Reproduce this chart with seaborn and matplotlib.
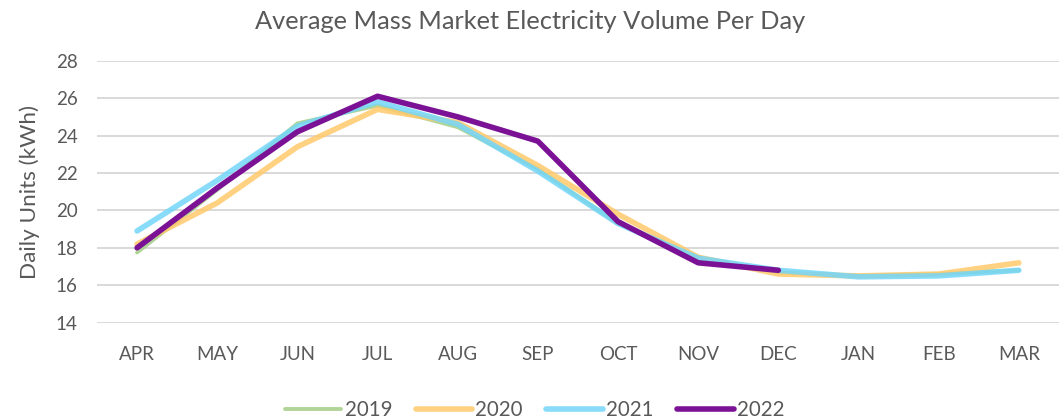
import pandas as pd
import matplotlib.pyplot as plt
import seaborn as sns

months = ["APR", "MAY", "JUN", "JUL", "AUG", "SEP", "OCT", "NOV", "DEC", "JAN", "FEB", "MAR"]
years = ["2019", "2020", "2021", "2022"]

v2019 = [17.75, 21.1, 24.65, 25.6, 24.45, 22.2, 19.3, 17.5, 16.7, 16.5, 16.6, 16.8]
v2020 = [18.2, 20.4, 23.4, 25.4, 24.7, 22.4, 19.8, 17.5, 16.6, 16.5, 16.6, 17.2]
v2021 = [18.9, 21.6, 24.5, 25.8, 24.6, 22.1, 19.3, 17.45, 16.8, 16.45, 16.5, 16.8]
v2022 = [18.0, 21.2, 24.2, 26.1, 25.0, 23.7, 19.4, 17.2, 16.8]

colors = {"2019": "#a9d18e", "2020": "#ffc96b", "2021": "#73d6fa", "2022": "#7b1295"}
widths = {"2019": 2.8, "2020": 4.0, "2021": 4.0, "2022": 4.0}
alphas = {"2019": 0.9, "2020": 0.85, "2021": 0.85, "2022": 1.0}

rows = []
for yr, vals in zip(years, [v2019, v2020, v2021, v2022]):
    for i, v in enumerate(vals):
        rows.append({"year": yr, "pos": i, "value": v})
df = pd.DataFrame(rows)

sns.set_style("white")
plt.rcParams["font.family"] = ["Lato", "DejaVu Sans"]
grey = "#595959"

fig = plt.figure(figsize=(10.61, 4.2), dpi=100)
ax = fig.add_axes([0.0914, 0.2317, 0.9066, 0.6238])

for yr in years:
    sns.lineplot(data=df[df["year"] == yr], x="pos", y="value", color=colors[yr],
                 linewidth=widths[yr], alpha=alphas[yr], ax=ax, label=yr,
                 solid_capstyle="round", solid_joinstyle="round")

ax.set_xlim(-0.5, 11.5)
ax.set_ylim(14, 28)
ax.set_yticks(range(14, 29, 2))
ax.set_xticks(range(len(months)))
ax.set_xticklabels(months)
ax.grid(axis="y", color="#d9d9d9", linewidth=1.4)
ax.set_axisbelow(True)
sns.despine(ax=ax, left=True, bottom=True)
ax.tick_params(axis="both", length=0, labelsize=13.5, colors=grey)
ax.tick_params(axis="x", pad=17)
ax.tick_params(axis="y", pad=14)
ax.set_xlabel("")
ax.set_ylabel("Daily Units (kWh)", fontsize=16.2, color=grey, labelpad=11)
fig.suptitle("Average Mass Market Electricity Volume Per Day", x=0.5, y=0.948,
             fontsize=18.3, color=grey, va="center")

ax.legend(loc="upper center", bbox_to_anchor=(0.455, -0.225), ncol=4, frameon=False,
          fontsize=14.8, handlelength=2.75, handletextpad=0.15, columnspacing=1.15,
          labelcolor=grey)

plt.savefig("out.png", dpi=100)
